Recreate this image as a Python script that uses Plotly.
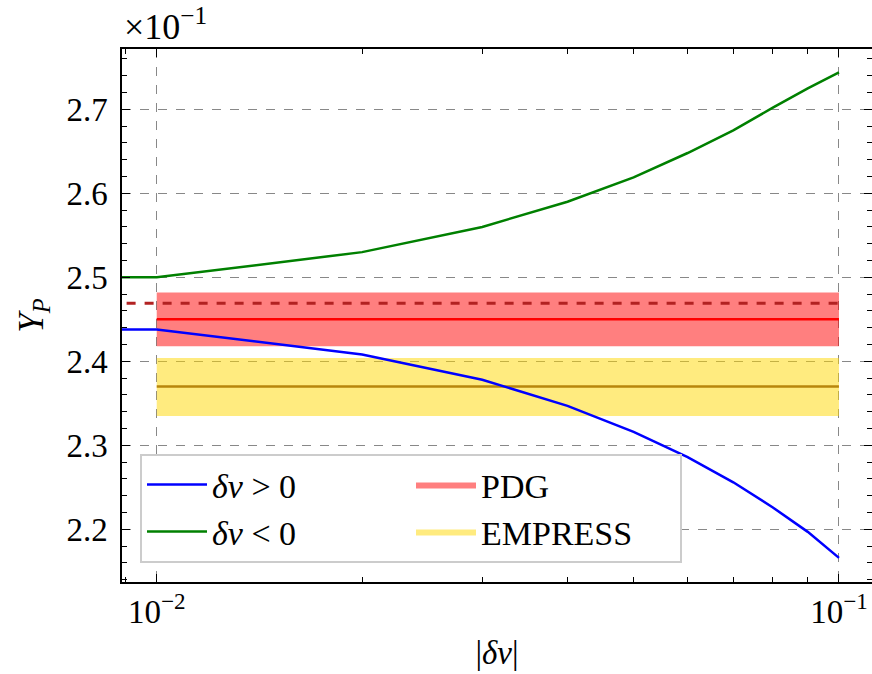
import plotly.graph_objects as go

# Data
dv = [0.008, 0.01, 0.02, 0.03, 0.04, 0.05, 0.06, 0.07, 0.08, 0.09, 0.1]
yp_pos = [0.2438, 0.2438, 0.2408, 0.2378, 0.2347, 0.2316, 0.2286, 0.2256, 0.2226, 0.2197, 0.2166]
yp_neg = [0.2500, 0.2500, 0.2530, 0.2560, 0.2590, 0.2619, 0.2648, 0.2675, 0.2702, 0.2725, 0.2744]

band_x = [0.01, 0.1]
pdg_central, pdg_lo, pdg_hi = 0.2450, 0.2418, 0.2482
empress_central, empress_lo, empress_hi = 0.2370, 0.2335, 0.2404
ref_dashed = 0.2469
dashed_x = [0.008, 0.1]

ytick_vals = [0.22, 0.23, 0.24, 0.25, 0.26, 0.27]
ytick_text = ["2.2", "2.3", "2.4", "2.5", "2.6", "2.7"]
xtick_vals = [0.01, 0.1]
xtick_text = ["10<sup>−2</sup>", "10<sup>−1</sup>"]

FONT = "Liberation Serif"
FS = 33

fig = go.Figure()

# PDG band
fig.add_trace(go.Scatter(
    x=[band_x[0], band_x[1], band_x[1], band_x[0]],
    y=[pdg_lo, pdg_lo, pdg_hi, pdg_hi],
    fill="toself", fillcolor="rgba(255,0,0,0.5)", mode="lines",
    line=dict(width=0), name="PDG", legendrank=2, hoverinfo="skip"))
# EMPRESS band
fig.add_trace(go.Scatter(
    x=[band_x[0], band_x[1], band_x[1], band_x[0]],
    y=[empress_lo, empress_lo, empress_hi, empress_hi],
    fill="toself", fillcolor="rgba(255,215,0,0.5)", mode="lines",
    line=dict(width=0), name="EMPRESS", legendrank=4, hoverinfo="skip"))
# central lines
fig.add_trace(go.Scatter(x=band_x, y=[pdg_central]*2, mode="lines",
                         line=dict(color="red", width=2.5), showlegend=False))
fig.add_trace(go.Scatter(x=band_x, y=[empress_central]*2, mode="lines",
                         line=dict(color="#B8860B", width=2.5), showlegend=False))
fig.add_trace(go.Scatter(x=dashed_x, y=[ref_dashed]*2, mode="lines",
                         line=dict(color="#B22222", width=3, dash="dash"), showlegend=False))
# curves
fig.add_trace(go.Scatter(x=dv, y=yp_pos, mode="lines", line=dict(color="blue", width=2.5),
                         name="<i>δv</i> > 0", legendrank=1))
fig.add_trace(go.Scatter(x=dv, y=yp_neg, mode="lines", line=dict(color="green", width=2.5),
                         name="<i>δv</i> < 0", legendrank=3))

axis_common = dict(
    showline=True, linecolor="black", linewidth=1.5, mirror="ticks",
    ticks="inside", ticklen=8, tickwidth=1.2, tickcolor="black",
    showgrid=True, gridcolor="#888888", gridwidth=1, griddash="dash",
    zeroline=False, automargin=False,
    tickfont=dict(family=FONT, size=FS, color="black"),
)

fig.update_xaxes(
    type="log", range=[-2.0509, -0.9516],
    tickvals=xtick_vals, ticktext=xtick_text,
    minor=dict(ticks="inside", ticklen=5, tickcolor="black", tickwidth=1.2, showgrid=False, dtick="D1"),
    title=dict(text="|<i>δv</i>|", font=dict(family=FONT, size=FS, color="black"), standoff=12),
    **axis_common)
fig.update_yaxes(
    range=[0.21373, 0.27718],
    tickvals=ytick_vals, ticktext=ytick_text,
    minor=dict(ticks="inside", ticklen=5, tickcolor="black", tickwidth=1.2, showgrid=False, dtick=0.002),
    title=dict(text="<i>Y</i><sub><i>P</i></sub>", font=dict(family=FONT, size=FS + 2, color="black"), standoff=12),
    ticklabelstandoff=6,
    **axis_common)

fig.add_annotation(text="×10<sup>−1</sup>", xref="paper", yref="paper", x=0, y=1.0,
                   xanchor="left", yanchor="bottom", showarrow=False, yshift=0,
                   font=dict(family=FONT, size=36, color="black"))

fig.update_layout(
    width=872, height=674,
    margin=dict(l=122, r=0, t=49, b=92),
    paper_bgcolor="white", plot_bgcolor="white",
    font=dict(family=FONT, size=FS, color="black"),
    legend=dict(orientation="h", x=0.024, y=0.036, xanchor="left", yanchor="bottom",
                bgcolor="white", bordercolor="#cccccc", borderwidth=2,
                entrywidth=194, entrywidthmode="pixels", itemwidth=60,
                font=dict(family=FONT, size=34, color="black")),
    showlegend=True,
)

fig.write_html("out.html", config={"displayModeBar": False},
               post_script="document.body.style.margin='0';")
